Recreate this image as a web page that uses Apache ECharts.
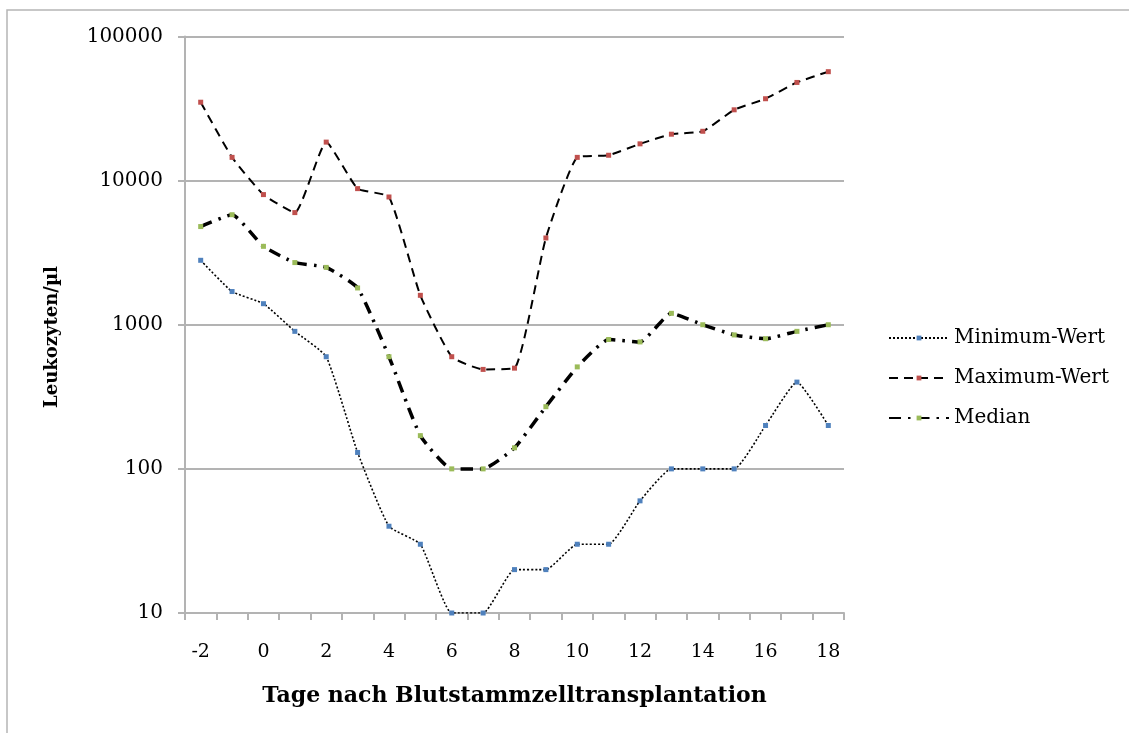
<!DOCTYPE html>
<html>
<head>
<meta charset="utf-8">
<script src="https://cdn.jsdelivr.net/npm/echarts@6/dist/echarts.min.js"></script>
<style>
  html, body { margin: 0; padding: 0; background: #fff; }
  #chart { width: 1129px; height: 733px; }
</style>
</head>
<body>
<div id="chart"></div>
<script>
// Days relative to stem cell transplantation
const days = ['-2', '-1', '0', '1', '2', '3', '4', '5', '6', '7', '8', '9', '10', '11', '12', '13', '14', '15', '16', '17', '18'];

// Leukocytes per µl
const minimumWert = [2800, 1700, 1400, 900, 600, 130, 40, 30, 10, 10, 20, 20, 30, 30, 60, 100, 100, 100, 200, 400, 200];
const maximumWert = [35000, 14500, 8000, 6000, 18500, 8800, 7700, 1600, 600, 490, 500, 4000, 14500, 15000, 18000, 21000, 22000, 31000, 37000, 48000, 57000];
const median = [4800, 5800, 3500, 2700, 2500, 1800, 600, 170, 100, 100, 140, 270, 510, 790, 760, 1200, 1000, 850, 800, 900, 1000];

const yTickLabels = ['10', '100', '1000', '10000', '100000'];

const serif = 'DejaVu Serif';
const gridGray = '#b3b3b3';
const smoothness = 0.15;

const chart = echarts.init(document.getElementById('chart'), null, { renderer: 'canvas' });

chart.setOption({
  backgroundColor: '#ffffff',
  animation: false,
  graphic: [
    {
      type: 'rect',
      shape: { x: 7, y: 10, width: 1300, height: 900 },
      style: { fill: 'transparent', stroke: '#b5b5b5', lineWidth: 1.5 },
      silent: true
    },
    {
      type: 'text',
      x: 52,
      y: 337,
      rotation: Math.PI / 2,
      style: {
        text: 'Leukozyten/µl',
        font: 'bold 18px "DejaVu Serif"',
        fill: '#000',
        align: 'center',
        verticalAlign: 'middle'
      }
    }
  ],
  grid: {
    left: 185,
    right: 285,
    top: 36.5,
    bottom: 120,
    containLabel: false,
    outerBoundsMode: 'none'
  },
  legend: {
    orient: 'vertical',
    left: 883,
    top: 323,
    itemWidth: 60,
    itemHeight: 6,
    itemGap: 20,
    textStyle: { fontFamily: serif, fontSize: 20, color: '#000', padding: [0, 0, 0, 0] },
    data: ['Minimum-Wert', 'Maximum-Wert', 'Median']
  },
  xAxis: {
    type: 'category',
    data: days,
    boundaryGap: true,
    name: 'Tage nach Blutstammzelltransplantation',
    nameLocation: 'middle',
    nameGap: 72,
    nameTextStyle: { fontFamily: serif, fontSize: 22, fontWeight: 'bold', color: '#000' },
    axisLine: { lineStyle: { color: gridGray, width: 2 } },
    axisTick: { show: true, interval: 0, length: 7, lineStyle: { color: gridGray, width: 2 } },
    axisLabel: { interval: 1, margin: 30, fontFamily: serif, fontSize: 19, color: '#000' },
    splitLine: { show: false }
  },
  yAxis: {
    type: 'log',
    logBase: 10,
    min: 10,
    max: 100000,
    axisLine: { show: true, lineStyle: { color: gridGray, width: 2 } },
    axisTick: { show: true, length: 7, lineStyle: { color: gridGray, width: 2 } },
    axisLabel: {
      margin: 22,
      fontFamily: serif,
      fontSize: 20,
      color: '#000',
      formatter: function (v) {
        const idx = Math.round(Math.log10(v)) - 1;
        return yTickLabels[idx] !== undefined ? yTickLabels[idx] : '';
      }
    },
    splitLine: { show: true, lineStyle: { color: gridGray, width: 2 } }
  },
  series: [
    {
      name: 'Minimum-Wert',
      type: 'line',
      data: minimumWert,
      smooth: smoothness,
      symbol: 'rect',
      symbolSize: 5,
      showSymbol: true,
      itemStyle: { color: '#4f81bd' },
      lineStyle: { color: '#000', width: 1.6, type: [2, 2] },
      z: 3
    },
    {
      name: 'Maximum-Wert',
      type: 'line',
      data: maximumWert,
      smooth: smoothness,
      symbol: 'rect',
      symbolSize: 5,
      showSymbol: true,
      itemStyle: { color: '#c0504d' },
      lineStyle: { color: '#000', width: 2, type: [9, 6] },
      z: 3
    },
    {
      name: 'Median',
      type: 'line',
      data: median,
      smooth: smoothness,
      symbol: 'rect',
      symbolSize: 5,
      showSymbol: true,
      itemStyle: { color: '#9bbb59' },
      lineStyle: { color: '#000', width: 3.5, type: [12, 7, 2.5, 7] },
      z: 3
    }
  ]
});
</script>
</body>
</html>
